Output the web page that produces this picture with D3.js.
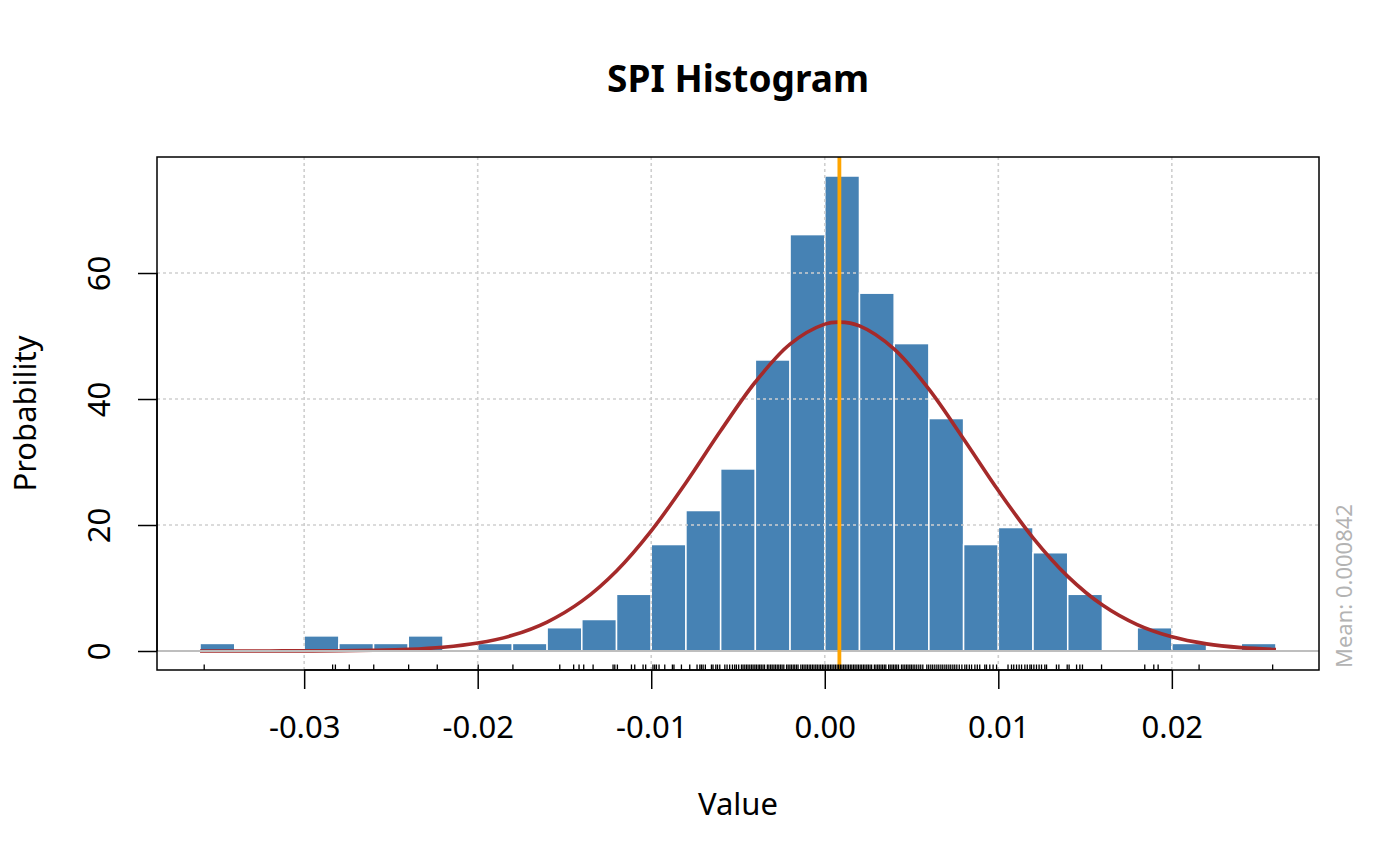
<!DOCTYPE html>
<html>
<head>
<meta charset="utf-8">
<script src="https://cdn.jsdelivr.net/npm/d3@7"></script>
<style>
  body { margin: 0; background: #fff; }
  text { font-family: "Noto Sans", sans-serif; }
</style>
</head>
<body>
<div id="chart"></div>
<script>
// histogram breaks and bar densities
const breaks = [
  -0.036, -0.034, -0.032, -0.030, -0.028, -0.026, -0.024, -0.022, -0.020, -0.018,
  -0.016, -0.014, -0.012, -0.010, -0.008, -0.006, -0.004, -0.002, 0.000, 0.002,
  0.004, 0.006, 0.008, 0.010, 0.012, 0.014, 0.016, 0.018, 0.020, 0.022, 0.024, 0.026
];
const densities = [
  1.2, 0, 0, 2.4, 1.2, 1.2, 2.4, 0, 1.2, 1.2,
  3.7, 5.0, 9.0, 16.9, 22.3, 28.9, 46.2, 66.1, 75.4, 56.8,
  48.8, 36.9, 16.9, 19.6, 15.6, 9.0, 0, 3.7, 1.2, 0, 1.2
];

// fitted normal curve
const curveX = [
  -0.036, -0.034, -0.032, -0.030, -0.028, -0.026, -0.024, -0.022, -0.020, -0.018,
  -0.016, -0.014, -0.012, -0.010, -0.008, -0.006, -0.004, -0.002, 0.000, 0.000842,
  0.002, 0.004, 0.006, 0.008, 0.010, 0.012, 0.014, 0.016, 0.018, 0.020, 0.022, 0.024, 0.026
];
const curveY = [
  0.00, 0.00, 0.01, 0.02, 0.04, 0.11, 0.26, 0.60, 1.26, 2.49,
  4.60, 7.91, 12.71, 19.07, 26.72, 34.96, 42.70, 48.71, 51.88, 52.2,
  51.60, 47.93, 41.56, 33.66, 25.47, 17.97, 11.85, 7.29, 4.19, 2.25, 1.13, 0.53, 0.23
];

const meanValue = 0.000842;

// rug marks visible under the bars
const rugValues = [
  -0.03576, -0.02836, -0.02820, -0.02740, -0.02599, -0.02398, -0.02233, -0.01997, -0.01797,
  -0.01527, -0.01447, -0.01416, -0.01389, -0.01335, -0.01220, -0.01210, -0.01195,
  -0.01114, -0.01095, -0.01047, -0.01032, -0.00990, -0.00980, -0.00970, -0.00955,
  -0.00922, -0.00878, -0.00869, -0.00826, -0.00778, -0.00736, -0.00720, -0.00711,
  -0.00701, -0.00688, -0.00653, -0.00644, -0.00628, -0.00618, -0.00605, -0.00576,
  -0.00563, -0.00548, -0.00532, -0.00519, -0.00509, -0.00496, -0.00480, -0.00471,
  -0.00461, -0.00451, -0.00442, -0.00432, -0.00422, -0.00413, -0.00403, -0.00394,
  -0.00384, -0.00375, -0.00366, -0.00356, -0.00347, -0.00331, -0.00322, -0.00312,
  -0.00303, -0.00293, -0.00284, -0.00274, -0.00265, -0.00255, -0.00246, -0.00236,
  -0.00220, -0.00211, -0.00201, -0.00192, -0.00182, -0.00173, -0.00163, -0.00154,
  -0.00138, -0.00128, -0.00119, -0.00109, -0.00100, -0.00090, -0.00081, -0.00071,
  -0.00062, -0.00052, -0.00043, -0.00033, -0.00024, -0.00014, -0.00005, 0.00004,
  0.00014, 0.00023, 0.00033, 0.00042, 0.00052, 0.00061, 0.00071, 0.00080, 0.00090,
  0.00099, 0.00109, 0.00118, 0.00128, 0.00137, 0.00147, 0.00156, 0.00166, 0.00175,
  0.00185, 0.00194, 0.00204, 0.00213, 0.00223, 0.00232, 0.00242, 0.00251, 0.00261,
  0.00270, 0.00286, 0.00295, 0.00305, 0.00314, 0.00324, 0.00333, 0.00343, 0.00352,
  0.00368, 0.00377, 0.00387, 0.00396, 0.00406, 0.00415, 0.00425, 0.00442, 0.00451,
  0.00461, 0.00471, 0.00480, 0.00490, 0.00499, 0.00509, 0.00519, 0.00530, 0.00542,
  0.00553, 0.00565, 0.00588, 0.00599, 0.00611, 0.00622, 0.00634, 0.00646, 0.00657,
  0.00669, 0.00680, 0.00692, 0.00703, 0.00715, 0.00726, 0.00738, 0.00749, 0.00761,
  0.00775, 0.00790, 0.00807, 0.00818, 0.00833, 0.00846, 0.00865, 0.00879, 0.00893,
  0.00922, 0.00932, 0.00951, 0.00970, 0.00990, 0.01056, 0.01076, 0.01089, 0.01105,
  0.01120, 0.01134, 0.01153, 0.01167, 0.01182, 0.01191, 0.01205, 0.01220, 0.01235,
  0.01249, 0.01268, 0.01278, 0.01335, 0.01349, 0.01397, 0.01408, 0.01451, 0.01470,
  0.01485, 0.01595, 0.01844, 0.01896, 0.01921, 0.02157, 0.02581
];

const xTicks = [-0.03, -0.02, -0.01, 0.00, 0.01, 0.02];
const xTickLabels = ["-0.03", "-0.02", "-0.01", "0.00", "0.01", "0.02"];
const yTicks = [0, 20, 40, 60];
const yTickLabels = ["0", "20", "40", "60"];

const titleText = "SPI Histogram";
const xLabelText = "Value";
const yLabelText = "Probability";

const dimensions = {
  width: 1400,
  height: 866,
  margin: { top: 157, right: 81, bottom: 196, left: 157 },
};
dimensions.boundedWidth =
  dimensions.width - dimensions.margin.left - dimensions.margin.right;
dimensions.boundedHeight =
  dimensions.height - dimensions.margin.top - dimensions.margin.bottom;

const bins = densities.map((d, i) => ({ x0: breaks[i], x1: breaks[i + 1], y: d }));

// R style 4% padding around the data range
const xMin = breaks[0];
const xMax = breaks[breaks.length - 1];
const xPad = (xMax - xMin) * 0.04;
const yMax = d3.max(densities);
const yPad = yMax * 0.04;

const xScale = d3
  .scaleLinear()
  .domain([xMin - xPad, xMax + xPad])
  .range([0, dimensions.boundedWidth]);
const yScale = d3
  .scaleLinear()
  .domain([-yPad, yMax + yPad])
  .range([dimensions.boundedHeight, 0]);

const svg = d3
  .select("#chart")
  .append("svg")
  .attr("width", dimensions.width)
  .attr("height", dimensions.height);

const bounds = svg
  .append("g")
  .attr("transform", `translate(${dimensions.margin.left},${dimensions.margin.top})`);

// bars
bounds
  .append("g")
  .selectAll("rect")
  .data(bins.filter((d) => d.y > 0))
  .join("rect")
  .attr("x", (d) => xScale(d.x0))
  .attr("width", (d) => xScale(d.x1) - xScale(d.x0))
  .attr("y", (d) => yScale(d.y))
  .attr("height", (d) => yScale(0) - yScale(d.y))
  .attr("fill", "#4682B4")
  .attr("stroke", "#fff")
  .attr("stroke-width", 1.5);

// grid
const grid = bounds
  .append("g")
  .attr("stroke", "#cfcfcf")
  .attr("stroke-width", 1.6)
  .attr("stroke-dasharray", "3,3");
grid
  .selectAll(".vgrid")
  .data(xTicks)
  .join("line")
  .attr("x1", (d) => xScale(d))
  .attr("x2", (d) => xScale(d))
  .attr("y1", 0)
  .attr("y2", dimensions.boundedHeight);
grid
  .selectAll(".hgrid")
  .data(yTicks)
  .join("line")
  .attr("x1", 0)
  .attr("x2", dimensions.boundedWidth)
  .attr("y1", (d) => yScale(d))
  .attr("y2", (d) => yScale(d));

// normal curve
const curvePoints = curveX.map((x, i) => [x, curveY[i]]);
const line = d3
  .line()
  .x((d) => xScale(d[0]))
  .y((d) => yScale(d[1]))
  .curve(d3.curveCatmullRom);
bounds
  .append("path")
  .datum(curvePoints)
  .attr("d", line)
  .attr("fill", "none")
  .attr("stroke", "#A52A2A")
  .attr("stroke-width", 3.6);

// zero line
bounds
  .append("line")
  .attr("x1", 0)
  .attr("x2", dimensions.boundedWidth)
  .attr("y1", yScale(0))
  .attr("y2", yScale(0))
  .attr("stroke", "#bebebe")
  .attr("stroke-width", 2);

// mean line
bounds
  .append("line")
  .attr("x1", xScale(meanValue))
  .attr("x2", xScale(meanValue))
  .attr("y1", 0)
  .attr("y2", dimensions.boundedHeight)
  .attr("stroke", "#FFA500")
  .attr("stroke-width", 3.8);

// rug
bounds
  .append("g")
  .selectAll("line")
  .data(rugValues)
  .join("line")
  .attr("x1", (d) => xScale(d))
  .attr("x2", (d) => xScale(d))
  .attr("y1", dimensions.boundedHeight - 5.5)
  .attr("y2", dimensions.boundedHeight)
  .attr("stroke", "#000")
  .attr("stroke-width", 1.3);

// box
bounds
  .append("rect")
  .attr("width", dimensions.boundedWidth)
  .attr("height", dimensions.boundedHeight)
  .attr("fill", "none")
  .attr("stroke", "#000")
  .attr("stroke-width", 1.5);

// axes
const xAxisGenerator = d3
  .axisBottom(xScale)
  .tickValues(xTicks)
  .tickFormat((d, i) => xTickLabels[i])
  .tickSize(19)
  .tickPadding(0);
const xAxis = bounds
  .append("g")
  .attr("transform", `translate(0,${dimensions.boundedHeight})`)
  .call(xAxisGenerator);
xAxis.select(".domain")
  .attr("d", `M${xScale(xTicks[0])},0H${xScale(xTicks[xTicks.length - 1])}`)
  .attr("stroke-width", 1.5);
xAxis.selectAll(".tick line").attr("stroke-width", 1.5);
xAxis
  .selectAll(".tick text")
  .attr("y", 68)
  .attr("dy", null)
  .attr("fill", "#000")
  .style("font-size", "31px")
  .style("font-family", "'Noto Sans', sans-serif");

const yAxisGenerator = d3
  .axisLeft(yScale)
  .tickValues(yTicks)
  .tickFormat((d, i) => yTickLabels[i])
  .tickSize(19);
const yAxis = bounds.append("g").call(yAxisGenerator);
yAxis.select(".domain")
  .attr("d", `M0,${yScale(yTicks[0])}V${yScale(yTicks[yTicks.length - 1])}`)
  .attr("stroke-width", 1.5);
yAxis.selectAll(".tick line").attr("stroke-width", 1.5);
yAxis
  .selectAll(".tick text")
  .attr("x", null)
  .attr("dy", null)
  .attr("transform", "translate(-47,0) rotate(-90)")
  .attr("text-anchor", "middle")
  .attr("fill", "#000")
  .style("font-size", "31px")
  .style("font-family", "'Noto Sans', sans-serif");

// titles
svg
  .append("text")
  .attr("x", dimensions.margin.left + dimensions.boundedWidth / 2)
  .attr("y", 92)
  .attr("text-anchor", "middle")
  .style("font-size", "37px")
  .style("font-weight", "bold")
  .text(titleText);

svg
  .append("text")
  .attr("x", dimensions.margin.left + dimensions.boundedWidth / 2)
  .attr("y", 815)
  .attr("text-anchor", "middle")
  .style("font-size", "31px")
  .text(xLabelText);

svg
  .append("text")
  .attr(
    "transform",
    `translate(36,${dimensions.margin.top + dimensions.boundedHeight / 2}) rotate(-90)`
  )
  .attr("text-anchor", "middle")
  .style("font-size", "31px")
  .text(yLabelText);

svg
  .append("text")
  .attr(
    "transform",
    `translate(1352,${dimensions.margin.top + dimensions.boundedHeight - 2}) rotate(-90)`
  )
  .attr("text-anchor", "start")
  .attr("fill", "#b3b3b3")
  .style("font-size", "22px")
  .text(`Mean: ${meanValue}`);
</script>
</body>
</html>
